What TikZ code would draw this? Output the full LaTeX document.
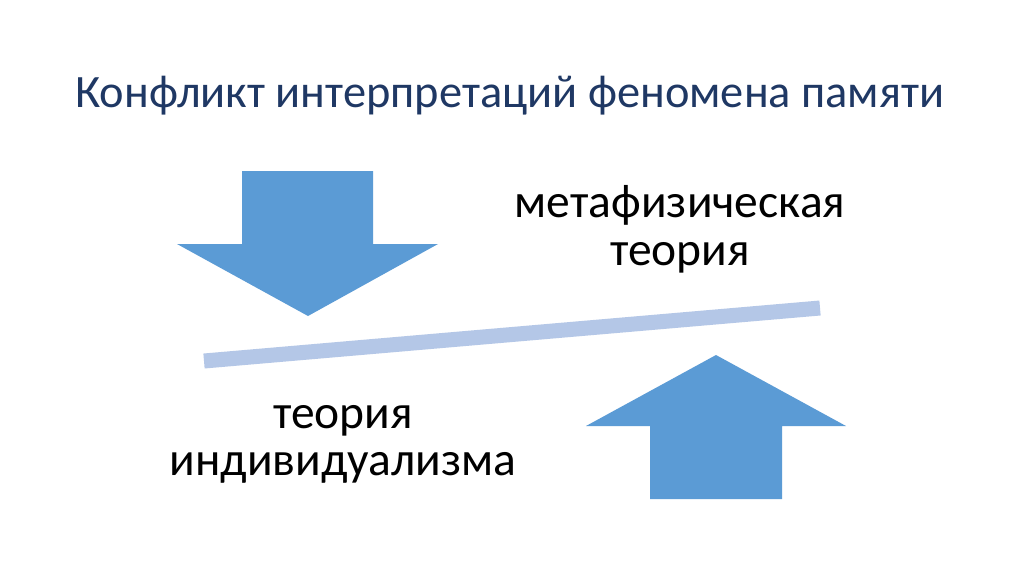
\documentclass[tikz,border=0pt]{standalone}
\usepackage{fontspec}
\setmainfont{Carlito}
\definecolor{arrowblue}{HTML}{5B9BD5}
\definecolor{barblue}{HTML}{B4C7E7}
\definecolor{titlenavy}{HTML}{1F3864}
\begin{document}
\begin{tikzpicture}[x=1pt,y=-1pt,
  bigarrow/.style={fill=arrowblue,draw=none},
  bodytext/.style={font=\fontsize{47.5}{48}\selectfont,text=black,inner sep=0pt,align=center},
  titletext/.style={font=\fontsize{46.4}{50}\selectfont,text=titlenavy,inner sep=0pt}]
\useasboundingbox[fill=white] (0,0) rectangle (1024,574);
% title
\node[titletext,anchor=base west] (title) at (75,107) {Конфликт интерпретаций феномена памяти};
% down arrow
\fill[bigarrow] (242,171) -- (373,171) -- (373,244) -- (438,244) -- (308,316) -- (177,244) -- (242,244) -- cycle;
% up arrow
\fill[bigarrow] (650,499) -- (782,499) -- (782,426) -- (846,426) -- (716,355) -- (586,426) -- (650,426) -- cycle;
% bar
\draw[barblue,line width=15pt] (204,361) -- (820,308);
% texts
\node[bodytext,anchor=base] (meta) at (680,217) {метафизическая};
\node[bodytext,anchor=base] (meta2) at (680,265) {теория};
\node[bodytext,anchor=base] (ind1) at (343,428) {теория};
\node[bodytext,anchor=base] (ind2) at (343,475) {индивидуализма};
\end{tikzpicture}
\end{document}
